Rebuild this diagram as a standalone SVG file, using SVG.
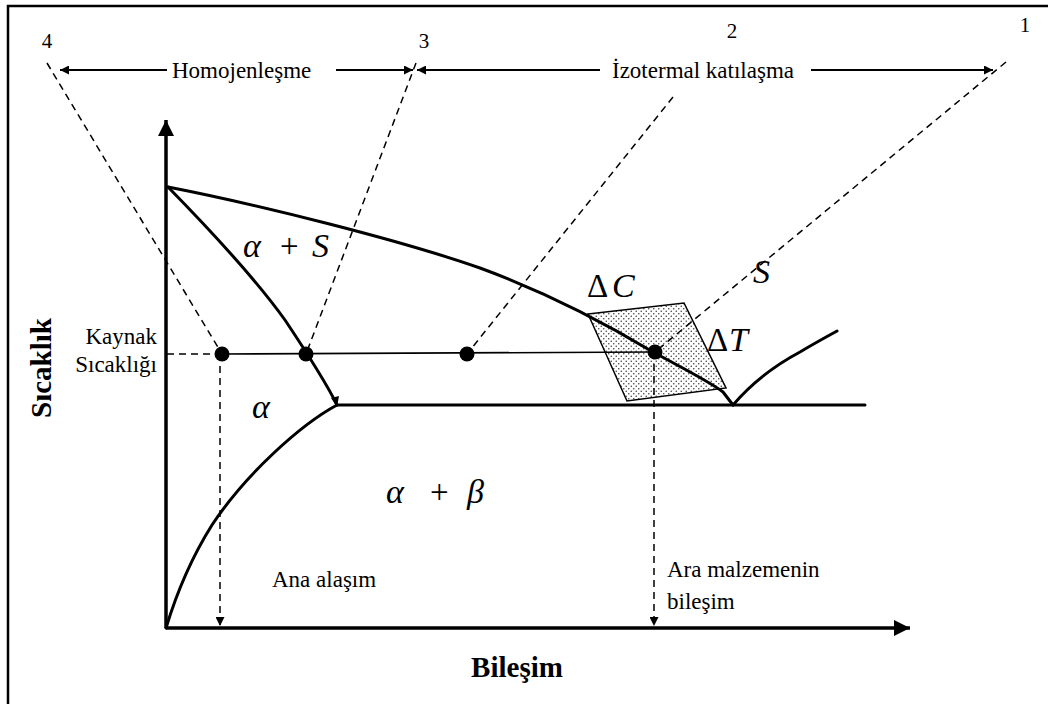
<svg xmlns="http://www.w3.org/2000/svg" width="1048" height="704" viewBox="0 0 1048 704">
<defs>
<style>
text{font-family:'Liberation Serif','Times New Roman',Times,serif;fill:#000}
.n{font-size:21px}
.l{font-size:23px}
.b{font-size:29px;font-weight:bold}
.g{font-size:34px;font-style:italic}
.u{font-size:33px}
.thick{stroke:#000;stroke-width:3;fill:none;stroke-linecap:round;stroke-linejoin:round}
.thin{stroke:#000;stroke-width:1.6;fill:none}
.dash{stroke:#000;stroke-width:1.5;fill:none;stroke-dasharray:7 5}
</style>
<pattern id="dots" width="5" height="5" patternUnits="userSpaceOnUse">
<rect width="5" height="5" fill="#fff"/>
<circle cx="1.25" cy="1.25" r="0.8" fill="#444"/>
<circle cx="3.75" cy="3.75" r="0.8" fill="#444"/>
</pattern>
<marker id="ah" viewBox="0 0 10 10" refX="10" refY="5" markerWidth="14" markerHeight="9" markerUnits="userSpaceOnUse" orient="auto">
<path d="M0,0 L10,5 L0,10 Z" fill="#000"/>
</marker>
<marker id="axh" viewBox="0 0 10 10" refX="10" refY="5" markerWidth="26" markerHeight="16" markerUnits="userSpaceOnUse" orient="auto">
<path d="M0,0 L10,5 L0,10 Z" fill="#000"/>
</marker>
</defs>
<rect width="1048" height="704" fill="#fff"/>
<path d="M8,704 L8,6 L1048,6" stroke="#000" stroke-width="2.5" fill="none"/>

<g id="shaded">
<polygon points="588,314 684,303 726,388 627,401" fill="url(#dots)" stroke="#000" stroke-width="1.5"/>
</g>

<g id="connectors">
<line x1="166" y1="628" x2="166" y2="120" stroke="#000" stroke-width="3.5" marker-end="url(#axh)"/>
<line x1="166" y1="628" x2="910" y2="628" stroke="#000" stroke-width="3.5" marker-end="url(#axh)"/>
<path class="thick" d="M168,187 C260,205 400,240 480,268 C540,290 600,320 653,352 C690,372 712,383 723,392 L733,405"/>
<path class="thick" d="M168,187 C215,235 260,285 285,320 C305,350 325,380 337,405"/>
<polygon points="331,398 339,396 337,407" fill="#000"/>
<path class="thick" d="M337,405 C300,425 245,475 212,525 C190,560 176,595 166,628"/>
<line class="thick" x1="337" y1="405" x2="865" y2="405"/>
<path class="thick" d="M733,405 C750,385 770,368 800,352 C815,343 828,336 837,331"/>
<line class="dash" x1="167" y1="354" x2="222" y2="354"/>
<line class="thin" x1="222" y1="354" x2="655" y2="352"/>
<line class="dash" x1="47" y1="63" x2="222" y2="354"/>
<line class="dash" x1="416" y1="63" x2="306" y2="354"/>
<line class="dash" x1="673" y1="97" x2="467" y2="354"/>
<line class="dash" x1="1006" y1="62" x2="655" y2="352"/>
<line class="dash" x1="220" y1="354" x2="220" y2="626" marker-end="url(#ah)"/>
<line class="dash" x1="654" y1="352" x2="654" y2="626" marker-end="url(#ah)"/>
<line x1="167" y1="70" x2="60" y2="70" stroke="#000" stroke-width="2" marker-end="url(#ah)"/>
<line x1="336" y1="70" x2="413" y2="70" stroke="#000" stroke-width="2" marker-end="url(#ah)"/>
<line x1="600" y1="70" x2="417" y2="70" stroke="#000" stroke-width="2" marker-end="url(#ah)"/>
<line x1="811" y1="70" x2="993" y2="70" stroke="#000" stroke-width="2" marker-end="url(#ah)"/>
</g>

<g id="points" fill="#000">
<circle cx="222" cy="354" r="7.5"/>
<circle cx="306" cy="354" r="7.5"/>
<circle cx="467" cy="354" r="7.5"/>
<circle cx="655" cy="352" r="7.5"/>
</g>

<g id="labels">
<text class="n" x="47" y="48" text-anchor="middle">4</text>
<text class="n" x="424" y="48" text-anchor="middle">3</text>
<text class="n" x="732" y="38" text-anchor="middle">2</text>
<text class="n" x="1025" y="32" text-anchor="middle">1</text>
<text class="l" x="172" y="78">Homojenleşme</text>
<text class="l" x="612" y="78">İzotermal katılaşma</text>
<text class="l" x="157" y="344" text-anchor="end">Kaynak</text>
<text class="l" x="157" y="372" text-anchor="end">Sıcaklığı</text>
<text class="b" transform="translate(51,368) rotate(-90)" text-anchor="middle">Sıcaklık</text>
<text class="b" x="517" y="677" text-anchor="middle">Bileşim</text>
<text class="l" x="272" y="587">Ana alaşım</text>
<text class="l" x="667" y="577">Ara malzemenin</text>
<text class="l" x="667" y="609">bileşim</text>
</g>

<g id="phases">
<text class="g" x="243" y="257">α</text>
<text class="u" x="280" y="257">+</text>
<text class="g" x="312" y="257">S</text>
<text class="g" x="252" y="418">α</text>
<text class="g" x="386" y="503">α</text>
<text class="u" x="430" y="503">+</text>
<text class="g" x="467" y="503">β</text>
<text class="g" x="753" y="283">S</text>
<text class="u" x="587" y="297">Δ</text>
<text class="g" x="612" y="297">C</text>
<text class="u" x="707" y="351">Δ</text>
<text class="g" x="729" y="351">T</text>
</g>
</svg>
